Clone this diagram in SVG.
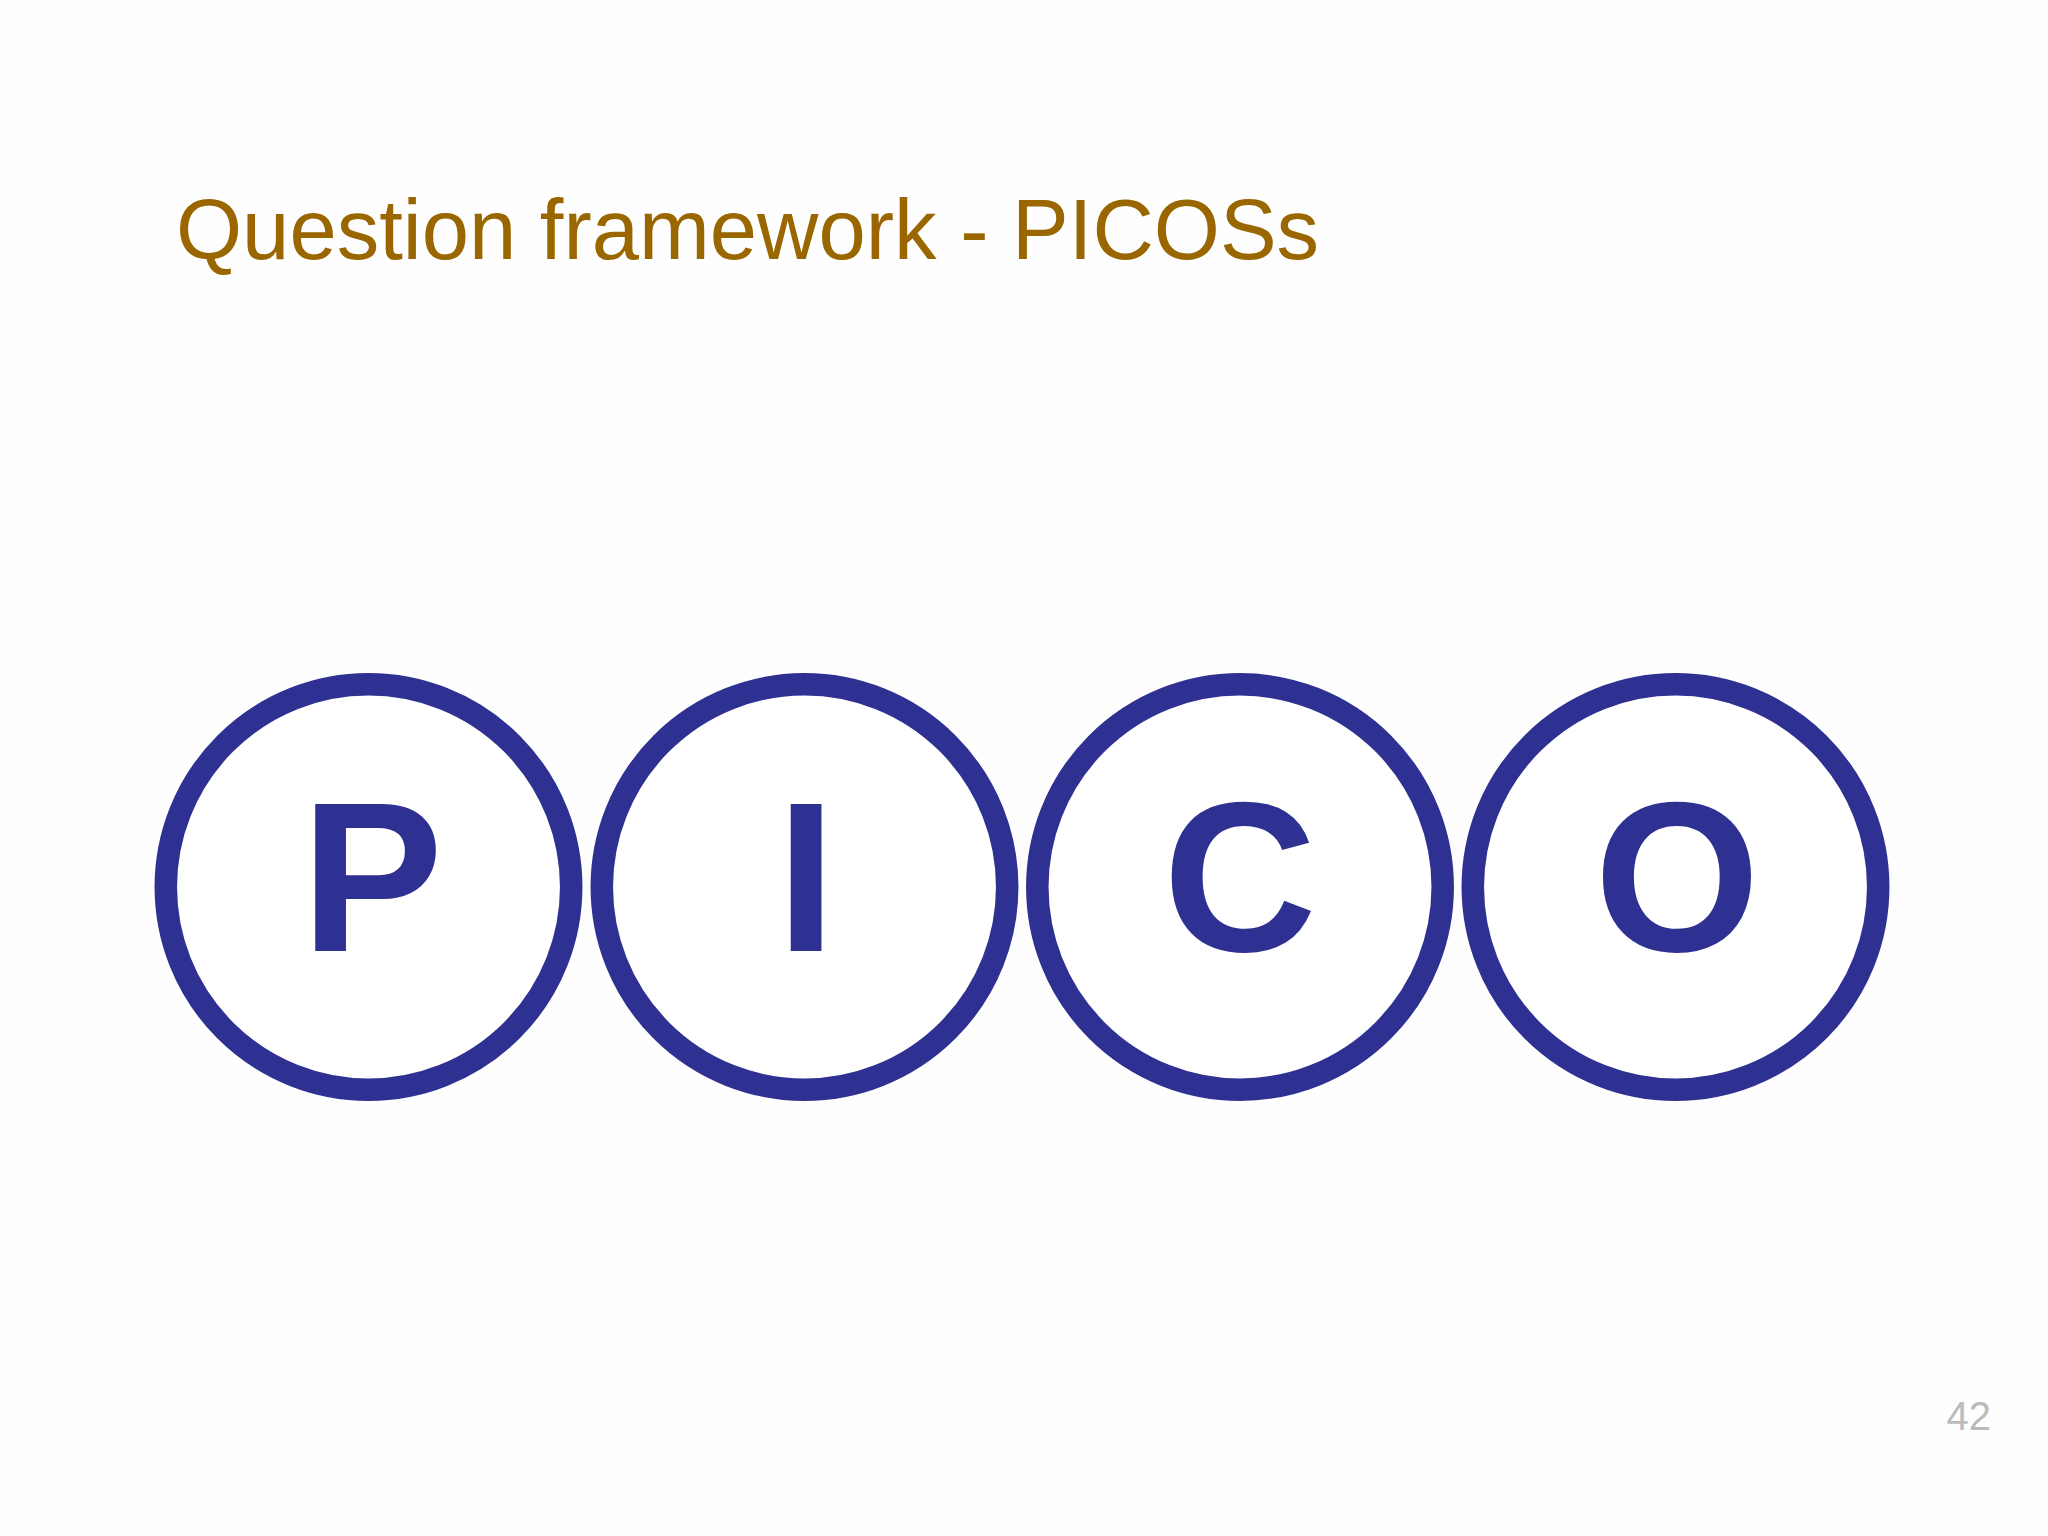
<svg xmlns="http://www.w3.org/2000/svg" width="2048" height="1536" viewBox="0 0 2048 1536">
<style>
.ring{fill:#FFFFFF;stroke:#2E3192;stroke-width:22.5}
.letter{font-family:"Liberation Sans",Arial,sans-serif;font-weight:bold;font-size:213px;fill:#2E3192;text-anchor:middle}
.title{font-family:"Liberation Sans",Arial,sans-serif;font-size:85px;fill:#996600}
.page{font-family:"Liberation Sans",Arial,sans-serif;font-size:40px;fill:#BBBBBB;text-anchor:end}
</style>
<rect width="2048" height="1536" fill="#FEFEFE"/>
<text class="title" x="176" y="259">Question framework - PICOSs</text>
<g id="node-P"><circle class="ring" cx="368.5" cy="887" r="202.7"/><text class="letter" x="372" y="951">P</text></g>
<g id="node-I"><circle class="ring" cx="804.5" cy="887" r="202.7"/><text class="letter" x="806" y="951">I</text></g>
<g id="node-C"><circle class="ring" cx="1240" cy="887" r="202.7"/><text class="letter" x="1240" y="951">C</text></g>
<g id="node-O"><circle class="ring" cx="1675.5" cy="887" r="202.7"/><text class="letter" x="1677" y="951">O</text></g>
<g id="connectors"/>
<text class="page" x="1991" y="1430">42</text>
</svg>
